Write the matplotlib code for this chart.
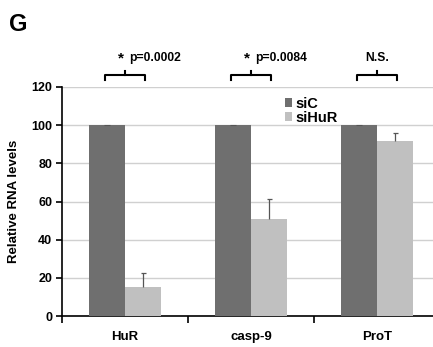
import numpy as np
import matplotlib
matplotlib.use("Agg")
import matplotlib.pyplot as plt

plt.rcParams['font.family'] = ['Liberation Sans', 'DejaVu Sans']
plt.rcParams['font.weight'] = 'bold'

# data
genes = ["HuR", "casp-9", "ProT"]
siC = [100, 100, 100]
siHuR = [15.3, 51, 91.5]
siHuR_err = [7, 10.5, 4.5]
labels = ["* p=0.0002", "* p=0.0084", "N.S."]

fig = plt.figure(figsize=(4.33, 3.47), dpi=100)
ax = fig.add_axes([0.1432, 0.0893, 0.857, 0.66])

x = np.arange(len(genes))
w = 0.286

ax.bar(x - w/2, siC, w, color='#6f6f6f', label='siC', zorder=3)
ax.bar(x + w/2, siHuR, w, color='#c0c0c0', label='siHuR', zorder=3)

# upper error bars only
top = np.array(siHuR) + np.array(siHuR_err)
ax.vlines(x + w/2, siHuR, top, color='#555555', lw=0.9, zorder=4)
ax.hlines(top, x + w/2 - 0.02, x + w/2 + 0.02, color='#555555', lw=0.9, zorder=4)
ax.hlines(siC, x - w/2 - 0.02, x - w/2 + 0.02, color='#555555', lw=0.8, zorder=4)

ax.set_xlim(-0.5, 2.445)
ax.set_ylim(0, 120)
ax.set_yticks(range(0, 121, 20))
ax.yaxis.grid(True, color='#d0d0d0', lw=1, zorder=0)
ax.set_axisbelow(True)

ax.set_xticks([-0.5, 0.5, 1.5])
ax.set_xticklabels([])
ax.set_xticks(x, minor=True)
ax.set_xticklabels(genes, minor=True, fontsize=9.5, fontweight='bold')
ax.tick_params(axis='x', which='minor', length=0, pad=11)
ax.tick_params(axis='x', which='major', length=5, width=1.2, direction='out')
ax.tick_params(axis='y', length=4, width=1.2, labelsize=9, pad=3)

for s in ['top', 'right']:
    ax.spines[s].set_visible(False)
ax.spines['left'].set_linewidth(1.2)
ax.spines['bottom'].set_linewidth(1.2)

ax.set_ylabel("Relative RNA levels", fontsize=9.5, fontweight='bold', labelpad=8)

# significance brackets
hw = 0.155
for i, lab in enumerate(labels):
    ax.plot([i - hw, i - hw, i + hw, i + hw], [123.5, 126.3, 126.3, 123.5],
            color='black', lw=1.5, clip_on=False)
    ax.plot([i, i], [126.3, 128.5], color='black', lw=1.5, clip_on=False)
    if lab.startswith('*'):
        ax.text(i - 0.055, 131.3, "*", fontsize=11, fontweight='bold',
                ha='left', va='bottom')
        ax.text(i + 0.035, 132.3, lab[2:], fontsize=8.7, fontweight='bold',
                ha='left', va='bottom')
    else:
        ax.text(i, 132.3, lab, fontsize=8.7, fontweight='bold',
                ha='center', va='bottom')

ax.legend(loc='upper left', bbox_to_anchor=(0.58, 0.99), frameon=False,
          handlelength=0.5, handleheight=0.5, handletextpad=0.25,
          labelspacing=0.0, borderpad=0, prop={'weight': 'bold', 'size': 10.5})

fig.text(0.02, 0.93, "G", fontsize=17, fontweight='bold', ha='left', va='center')

fig.savefig("out.png", dpi=100)
